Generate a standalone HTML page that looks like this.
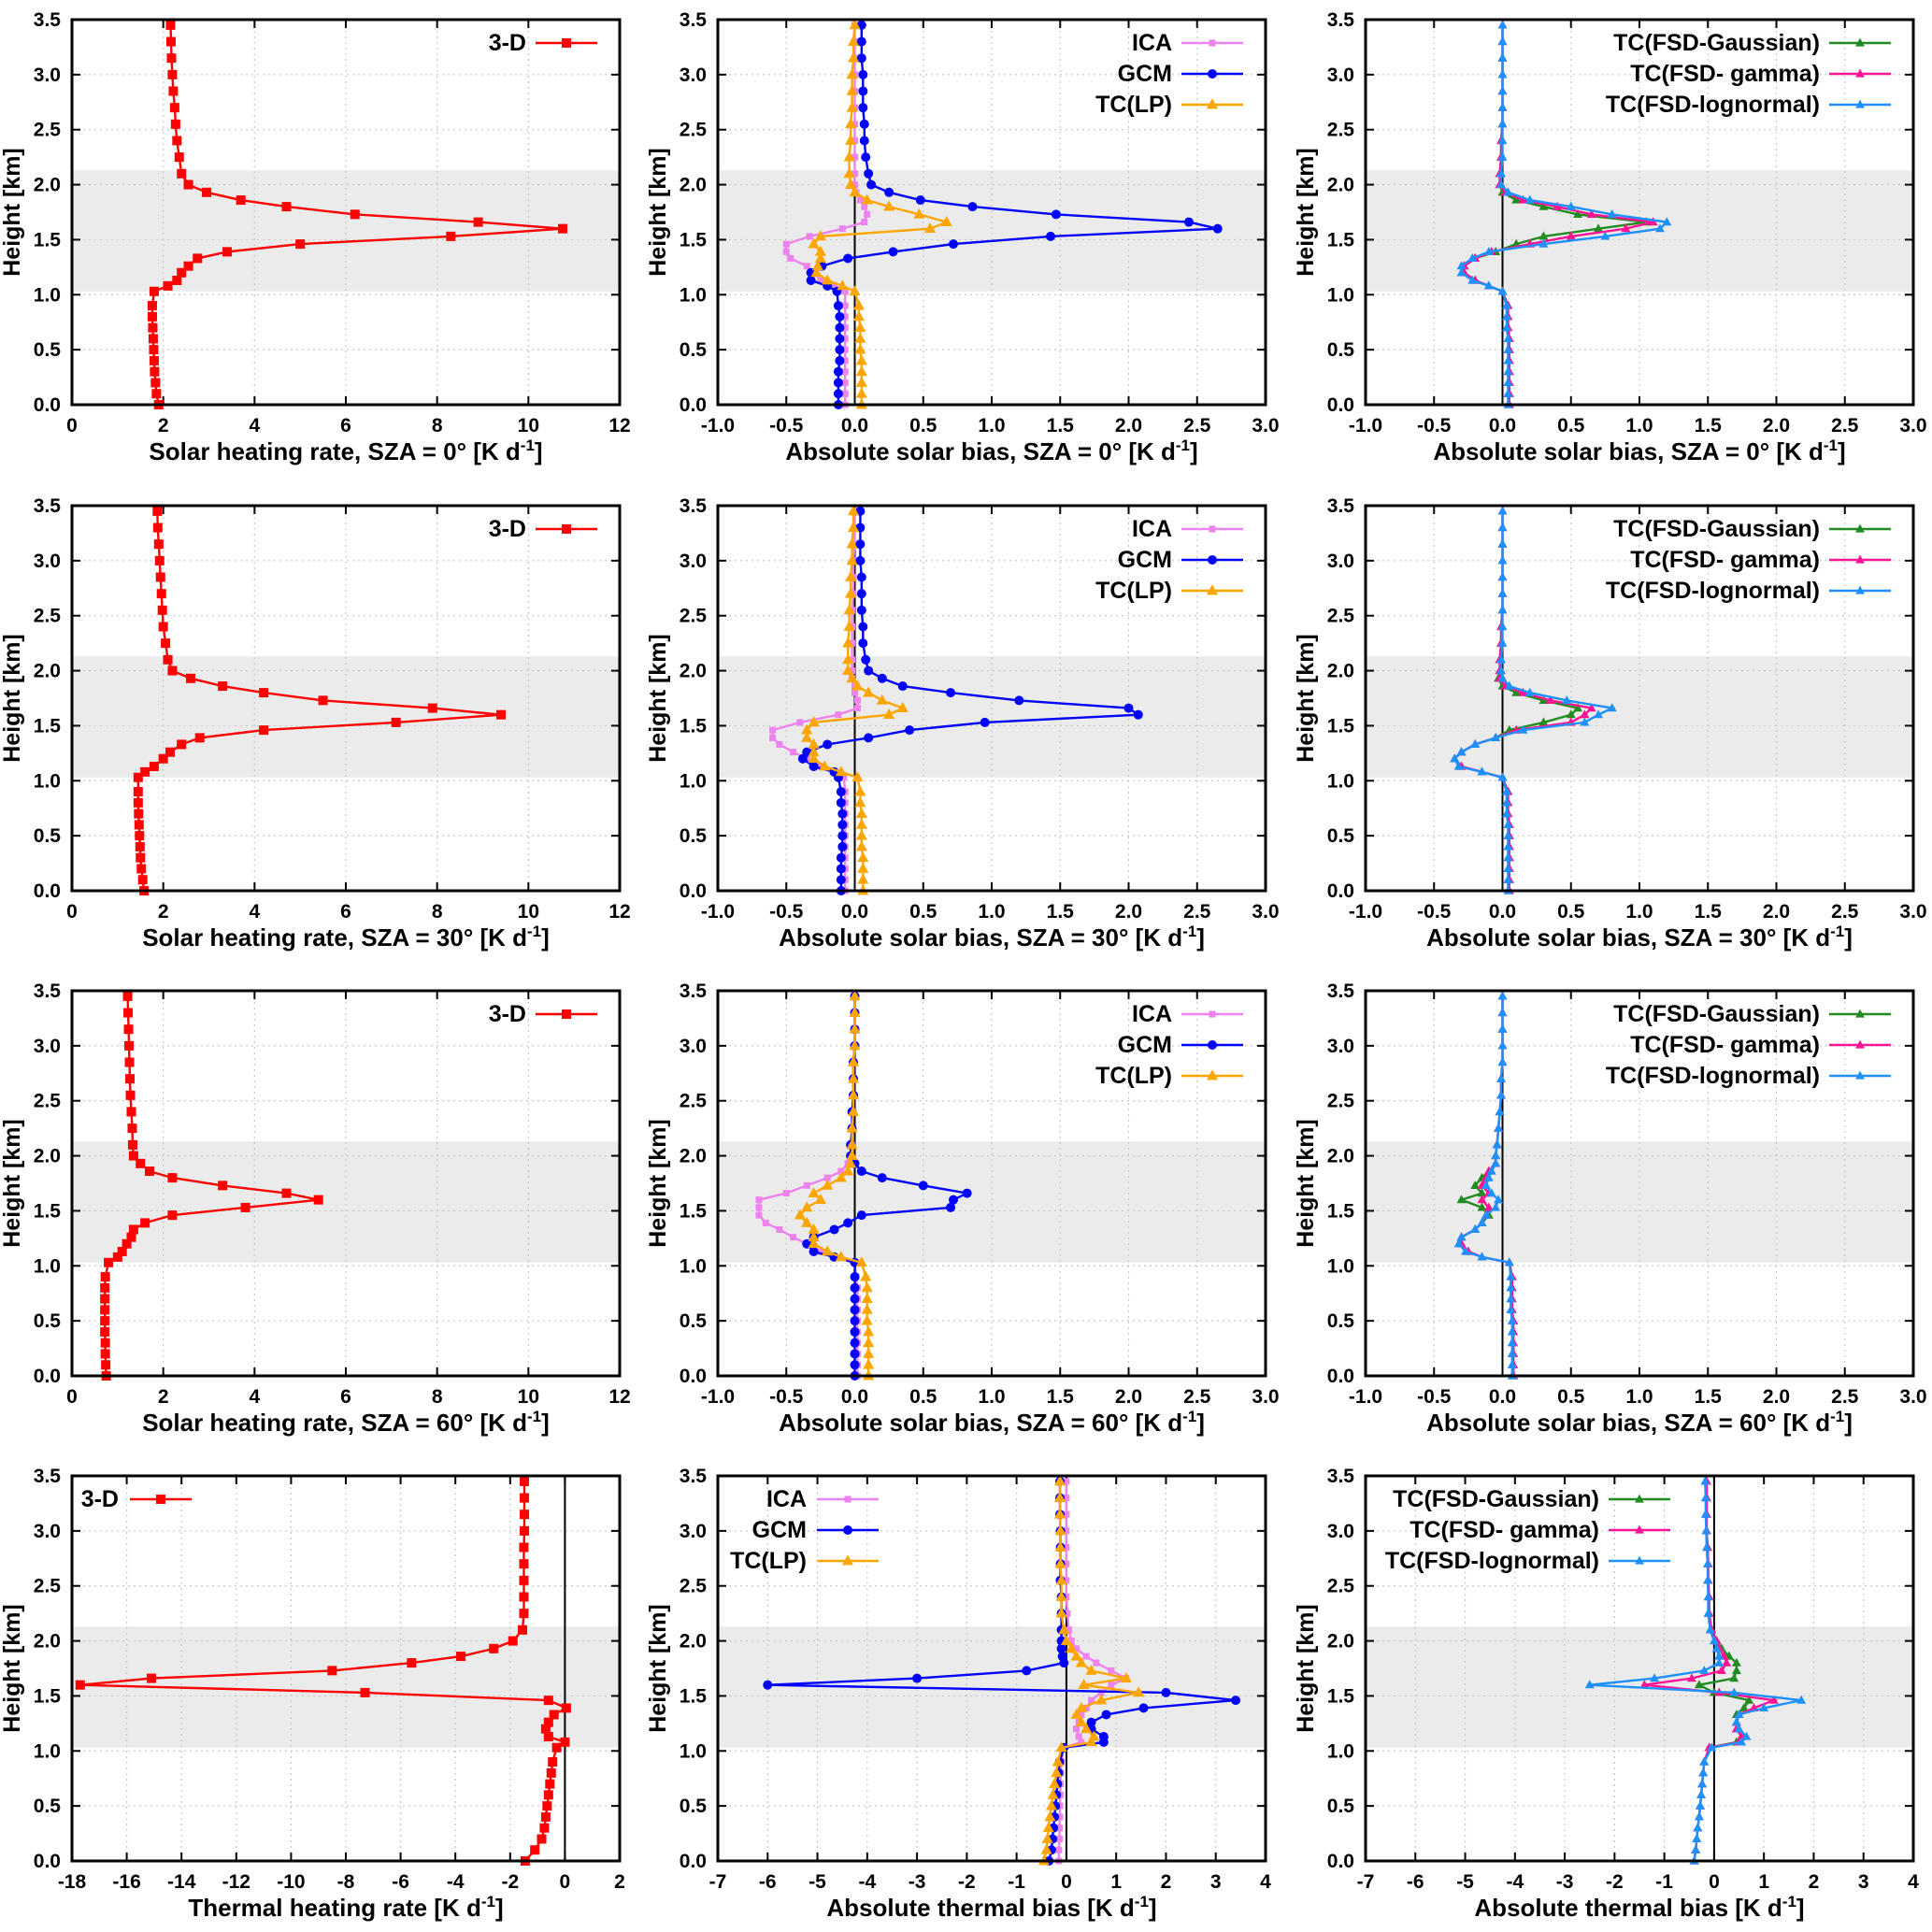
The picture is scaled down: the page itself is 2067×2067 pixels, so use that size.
<!DOCTYPE html>
<html><head><meta charset="utf-8"><style>
html,body{margin:0;padding:0;background:#fff;}
svg{display:block;font-family:"Liberation Sans",sans-serif;font-weight:bold;}
</style></head><body>
<svg id="fig" width="2067" height="2067" viewBox="0 0 2067 2067" xmlns="http://www.w3.org/2000/svg"></svg>
<script>
// Heights (km) shared by all profiles
const H=[0,0.1,0.2,0.3,0.4,0.5,0.6,0.7,0.8,0.9,1.03,1.08,1.13,1.2,1.26,1.33,1.39,1.46,1.53,1.6,1.66,1.73,1.8,1.86,1.93,2.0,2.1,2.25,2.4,2.55,2.7,2.85,3.0,3.15,3.3,3.45];
// Column 1: 3-D heating rates
const hr0=[1.9,1.85,1.83,1.81,1.8,1.79,1.78,1.77,1.76,1.76,1.8,2.1,2.3,2.4,2.55,2.75,3.4,5.0,8.3,10.75,8.9,6.2,4.7,3.7,2.95,2.55,2.4,2.35,2.3,2.27,2.25,2.22,2.2,2.18,2.17,2.16];
const hr30=[1.58,1.55,1.52,1.5,1.49,1.48,1.47,1.46,1.45,1.45,1.45,1.6,1.8,2.0,2.15,2.4,2.8,4.2,7.1,9.4,7.9,5.5,4.2,3.3,2.6,2.2,2.1,2.05,2.0,1.98,1.96,1.94,1.92,1.9,1.88,1.87];
const hr60=[0.75,0.74,0.73,0.73,0.72,0.72,0.72,0.72,0.72,0.73,0.8,1.0,1.1,1.2,1.3,1.35,1.6,2.2,3.8,5.4,4.7,3.3,2.2,1.7,1.5,1.35,1.33,1.32,1.3,1.28,1.27,1.26,1.25,1.24,1.23,1.22];
const hrTh=[-1.45,-1.1,-0.85,-0.75,-0.7,-0.65,-0.6,-0.55,-0.5,-0.45,-0.3,0.0,-0.6,-0.7,-0.6,-0.4,0.05,-0.6,-7.3,-17.7,-15.1,-8.5,-5.6,-3.8,-2.6,-1.9,-1.55,-1.5,-1.5,-1.5,-1.5,-1.5,-1.48,-1.48,-1.48,-1.48];
// Column 2: ICA / GCM / TC(LP) biases
const ica0=[-0.07,-0.07,-0.07,-0.07,-0.07,-0.07,-0.07,-0.07,-0.07,-0.07,-0.07,-0.15,-0.25,-0.3,-0.35,-0.47,-0.5,-0.5,-0.33,-0.09,0.07,0.09,0.07,0.04,0.01,0.0,0.0,0.0,0.0,0.0,0.0,0.0,0.0,0.0,0.0,0.0];
const gcm0=[-0.12,-0.12,-0.12,-0.12,-0.11,-0.11,-0.11,-0.11,-0.11,-0.12,-0.13,-0.2,-0.32,-0.32,-0.24,-0.05,0.28,0.72,1.43,2.65,2.44,1.47,0.86,0.48,0.25,0.12,0.1,0.08,0.07,0.07,0.06,0.06,0.06,0.05,0.05,0.05];
const tc0=[0.05,0.05,0.05,0.05,0.05,0.04,0.04,0.04,0.03,0.03,0.0,-0.09,-0.2,-0.28,-0.27,-0.25,-0.25,-0.3,-0.25,0.55,0.67,0.47,0.25,0.09,0.0,-0.03,-0.04,-0.04,-0.03,-0.03,-0.02,-0.02,-0.02,-0.01,-0.01,0.0];
const ica30=[-0.07,-0.07,-0.07,-0.07,-0.07,-0.07,-0.07,-0.07,-0.07,-0.07,-0.08,-0.15,-0.25,-0.35,-0.45,-0.55,-0.6,-0.6,-0.4,-0.12,0.02,0.02,0.0,0.0,-0.02,-0.02,-0.02,-0.02,-0.02,-0.02,-0.01,-0.01,-0.01,0.0,0.0,0.0];
const gcm30=[-0.1,-0.1,-0.1,-0.1,-0.09,-0.09,-0.09,-0.09,-0.1,-0.1,-0.12,-0.15,-0.3,-0.38,-0.35,-0.2,0.1,0.4,0.95,2.07,2.0,1.2,0.7,0.35,0.2,0.1,0.08,0.06,0.06,0.05,0.05,0.05,0.04,0.04,0.04,0.04];
const tc30=[0.06,0.06,0.06,0.06,0.05,0.05,0.05,0.05,0.04,0.04,0.02,-0.1,-0.22,-0.3,-0.3,-0.3,-0.35,-0.35,-0.3,0.25,0.35,0.2,0.1,0.02,-0.02,-0.05,-0.05,-0.05,-0.04,-0.04,-0.03,-0.03,-0.02,-0.02,-0.01,-0.01];
const ica60=[0.02,0.02,0.02,0.02,0.02,0.02,0.02,0.02,0.02,0.01,0.0,-0.15,-0.25,-0.35,-0.45,-0.55,-0.65,-0.7,-0.7,-0.7,-0.5,-0.35,-0.2,-0.1,-0.05,-0.03,-0.02,-0.02,-0.02,-0.01,-0.01,-0.01,0.0,0.0,0.0,0.0];
const gcm60=[0.0,0.0,0.0,0.0,0.0,0.0,0.0,0.0,0.0,0.0,0.0,-0.15,-0.3,-0.35,-0.3,-0.15,-0.05,0.05,0.7,0.72,0.82,0.5,0.2,0.05,0.0,-0.03,-0.03,-0.02,-0.02,-0.01,-0.01,-0.01,0.0,0.0,0.0,0.0];
const tc60=[0.1,0.1,0.1,0.1,0.1,0.09,0.09,0.09,0.09,0.08,0.05,-0.1,-0.2,-0.3,-0.3,-0.3,-0.35,-0.4,-0.35,-0.25,-0.3,-0.2,-0.1,-0.05,-0.03,-0.02,-0.02,-0.02,-0.01,-0.01,-0.01,-0.01,0.0,0.0,0.0,0.0];
const icaTh=[-0.15,-0.15,-0.14,-0.14,-0.13,-0.13,-0.12,-0.12,-0.11,-0.1,-0.05,0.3,0.25,0.2,0.25,0.3,0.4,0.5,0.7,0.9,1.2,0.9,0.6,0.4,0.2,0.1,0.05,0.02,0.0,0.0,0.0,0.0,0.0,0.0,0.0,0.0];
const gcmTh=[-0.35,-0.3,-0.28,-0.26,-0.24,-0.22,-0.2,-0.18,-0.16,-0.14,-0.05,0.75,0.75,0.5,0.5,0.8,1.55,3.4,2.0,-6.0,-3.0,-0.8,-0.05,-0.08,-0.1,-0.1,-0.1,-0.1,-0.1,-0.12,-0.12,-0.12,-0.12,-0.13,-0.13,-0.13];
const tcTh=[-0.45,-0.4,-0.38,-0.36,-0.33,-0.3,-0.27,-0.24,-0.2,-0.17,-0.1,0.5,0.55,0.4,0.3,0.2,0.3,0.7,1.45,0.35,1.2,0.5,0.3,0.2,0.1,0.0,-0.05,-0.1,-0.1,-0.1,-0.12,-0.12,-0.12,-0.13,-0.13,-0.13];
// Column 3: TC(FSD) biases
const gau0=[0.05,0.05,0.05,0.05,0.05,0.05,0.05,0.04,0.04,0.04,0.0,-0.1,-0.2,-0.28,-0.28,-0.2,-0.05,0.1,0.3,0.7,1.05,0.55,0.3,0.1,0.0,-0.02,-0.02,-0.01,-0.01,0.0,0.0,0.0,0.0,0.0,0.0,0.0];
const gam0=[0.05,0.05,0.05,0.05,0.05,0.05,0.05,0.04,0.04,0.04,0.0,-0.1,-0.2,-0.28,-0.28,-0.2,-0.08,0.2,0.5,0.9,1.1,0.65,0.4,0.15,0.02,-0.02,-0.02,-0.01,-0.01,0.0,0.0,0.0,0.0,0.0,0.0,0.0];
const log0=[0.04,0.04,0.04,0.04,0.04,0.04,0.04,0.03,0.03,0.03,0.0,-0.1,-0.22,-0.3,-0.3,-0.22,-0.1,0.3,0.75,1.15,1.2,0.8,0.5,0.2,0.04,-0.01,-0.01,0.0,0.0,0.0,0.0,0.0,0.0,0.0,0.0,0.0];
const gau30=[0.05,0.05,0.05,0.05,0.05,0.05,0.05,0.04,0.04,0.04,0.0,-0.15,-0.3,-0.35,-0.3,-0.2,-0.05,0.05,0.3,0.5,0.55,0.3,0.1,0.0,-0.03,-0.02,-0.02,-0.01,-0.01,0.0,0.0,0.0,0.0,0.0,0.0,0.0];
const gam30=[0.05,0.05,0.05,0.05,0.05,0.05,0.05,0.04,0.04,0.04,0.0,-0.15,-0.3,-0.35,-0.3,-0.2,-0.05,0.1,0.5,0.6,0.65,0.35,0.15,0.02,-0.02,-0.02,-0.02,-0.01,-0.01,0.0,0.0,0.0,0.0,0.0,0.0,0.0];
const log30=[0.04,0.04,0.04,0.04,0.04,0.04,0.04,0.03,0.03,0.03,0.0,-0.15,-0.32,-0.35,-0.3,-0.2,-0.05,0.15,0.6,0.7,0.8,0.47,0.2,0.05,0.0,-0.01,-0.01,0.0,0.0,0.0,0.0,0.0,0.0,0.0,0.0,0.0];
const gau60=[0.08,0.08,0.08,0.08,0.08,0.08,0.07,0.07,0.07,0.07,0.05,-0.15,-0.25,-0.3,-0.3,-0.2,-0.15,-0.1,-0.15,-0.3,-0.15,-0.2,-0.15,-0.1,-0.05,-0.05,-0.04,-0.03,-0.02,-0.01,-0.01,0.0,0.0,0.0,0.0,0.0];
const gam60=[0.08,0.08,0.08,0.08,0.08,0.08,0.07,0.07,0.07,0.07,0.05,-0.15,-0.25,-0.3,-0.3,-0.2,-0.15,-0.12,-0.1,-0.15,-0.1,-0.15,-0.12,-0.1,-0.05,-0.05,-0.04,-0.03,-0.02,-0.01,-0.01,0.0,0.0,0.0,0.0,0.0];
const log60=[0.07,0.07,0.07,0.07,0.07,0.07,0.06,0.06,0.06,0.06,0.05,-0.15,-0.27,-0.32,-0.3,-0.2,-0.15,-0.12,-0.05,-0.03,-0.08,-0.12,-0.1,-0.08,-0.05,-0.05,-0.04,-0.03,-0.02,-0.01,-0.01,0.0,0.0,0.0,0.0,0.0];
const gauTh=[-0.4,-0.37,-0.35,-0.33,-0.3,-0.28,-0.26,-0.24,-0.22,-0.2,-0.1,0.45,0.55,0.45,0.45,0.45,0.6,0.7,0.0,-0.3,0.4,0.45,0.45,0.3,0.15,0.05,-0.05,-0.1,-0.1,-0.12,-0.12,-0.13,-0.15,-0.15,-0.15,-0.15];
const gamTh=[-0.4,-0.37,-0.35,-0.33,-0.3,-0.28,-0.26,-0.24,-0.22,-0.2,-0.1,0.5,0.55,0.45,0.45,0.5,0.8,1.2,0.1,-1.4,-0.45,0.15,0.25,0.2,0.1,0.05,-0.05,-0.1,-0.1,-0.12,-0.12,-0.13,-0.15,-0.15,-0.15,-0.15];
const logTh=[-0.4,-0.37,-0.35,-0.33,-0.3,-0.28,-0.26,-0.24,-0.22,-0.2,-0.05,0.55,0.65,0.5,0.45,0.5,1.0,1.75,0.4,-2.5,-1.2,-0.2,0.1,0.1,0.05,0.0,-0.08,-0.12,-0.12,-0.13,-0.13,-0.15,-0.16,-0.17,-0.17,-0.18];
const yTicks=[0,0.5,1,1.5,2,2.5,3,3.5];
const tickHR=[0,2,4,6,8,10,12];
const tickTh=[-18,-16,-14,-12,-10,-8,-6,-4,-2,0,2];
const tickBias=[-1,-0.5,0,0.5,1,1.5,2,2.5,3];
const tickThB=[-7,-6,-5,-4,-3,-2,-1,0,1,2,3,4];
const ICA={name:'ICA',color:'#ee82ee',m:'sq',ms:7};
const GCM={name:'GCM',color:'#0000ff',m:'ci',ms:10};
const TCL={name:'TC(LP)',color:'#ffa500',m:'tr',ms:11};
const GAU={name:'TC(FSD-Gaussian)',color:'#228b22',m:'tr',ms:9};
const GAM={name:'TC(FSD- gamma)',color:'#ff1493',m:'tr',ms:9};
const LOG={name:'TC(FSD-lognormal)',color:'#1e90ff',m:'tr',ms:9};
const TD={name:'3-D',color:'#ff0000',m:'sq',ms:10};

const NS='http://www.w3.org/2000/svg';
const svg=document.getElementById('fig');
function mk(tag,attrs,parent){const e=document.createElementNS(NS,tag);for(const k in attrs)e.setAttribute(k,attrs[k]);(parent||svg).appendChild(e);return e;}
const colL=[77,768,1461], rowT=[21,541,1060,1579], PW=586, PH=412;
function fmt(v,dec){return dec?v.toFixed(1):String(v);}
function marker(g,t,x,y,c,s){
  let e;
  if(t==='sq') e=mk('rect',{x:x-s/2,y:y-s/2,width:s,height:s,fill:c},g);
  else if(t==='ci') e=mk('circle',{cx:x,cy:y,r:s/2,fill:c},g);
  else e=mk('polygon',{points:`${x},${y-s*0.6} ${x-s*0.55},${y+s*0.4} ${x+s*0.55},${y+s*0.4}`,fill:c},g);
  
  
}
function panel(r,c,xmin,xmax,ticks,dec,title,series,legendLeft,zeroLine){
  const L=colL[c],T=rowT[r],B=T+PH,R=L+PW;
  const xs=v=>L+(v-xmin)/(xmax-xmin)*PW, ys=h=>B-h/3.5*PH;
  const g=mk('g',{});
  
  
  const band=mk('rect',{x:L,y:ys(2.13),width:PW,height:ys(1.03)-ys(2.13),fill:'#ebebeb'},g);
  
  
  ticks.forEach(v=>{const x=xs(v);mk('line',{x1:x,y1:T,x2:x,y2:B,stroke:'#c8c8c8','stroke-width':1.2,'stroke-dasharray':'2,4'},g);
    mk('line',{x1:x,y1:B,x2:x,y2:B-9,stroke:'#000','stroke-width':2},g);mk('line',{x1:x,y1:T,x2:x,y2:T+9,stroke:'#000','stroke-width':2},g);
    const t=mk('text',{x:x,y:B+29,'text-anchor':'middle','font-size':21},g);t.textContent=fmt(v,dec);
    });
  yTicks.forEach(v=>{const y=ys(v);mk('line',{x1:L,y1:y,x2:R,y2:y,stroke:'#c8c8c8','stroke-width':1.2,'stroke-dasharray':'2,4'},g);
    mk('line',{x1:L,y1:y,x2:L+9,y2:y,stroke:'#000','stroke-width':2},g);mk('line',{x1:R,y1:y,x2:R-9,y2:y,stroke:'#000','stroke-width':2},g);
    const t=mk('text',{x:L-12,y:y+7,'text-anchor':'end','font-size':21},g);t.textContent=v.toFixed(1);
    });
  if(zeroLine){const z=mk('line',{x1:xs(0),y1:T,x2:xs(0),y2:B,stroke:'#000','stroke-width':2},g);}
  series.forEach(s=>{
    const pts=H.map((h,i)=>xs(s.v[i]).toFixed(1)+','+ys(h).toFixed(1)).join(' ');
    const pl=mk('polyline',{points:pts,fill:'none',stroke:s.st.color,'stroke-width':2.4},g);
    
    
    H.forEach((h,i)=>marker(g,s.st.m,xs(s.v[i]),ys(h),s.st.color,s.st.ms));
  });
  const fr=mk('rect',{x:L,y:T,width:PW,height:PH,fill:'none',stroke:'#000','stroke-width':3},g);
  
  const yt=mk('text',{x:0,y:0,'text-anchor':'middle','font-size':25,transform:`translate(${L-56},${T+PH/2}) rotate(-90)`},g);
  yt.textContent='Height [km]';
  const xt=mk('text',{x:L+PW/2,y:B+59,'text-anchor':'middle','font-size':26},g);
  
  xt.appendChild(document.createTextNode(title+' [K d'));
  const sp=mk('tspan',{dy:-10,'font-size':17},xt);sp.textContent='-1';
  const sp2=mk('tspan',{dy:10},xt);sp2.textContent=']';
  const lg=mk('g',{},g);
  series.slice().sort((a,b)=>a.lo-b.lo).forEach((s,i)=>{
    const y=T+25+i*33;
    let tx,l1,l2;
    if(legendLeft){tx=L+legendLeft[0];l1=L+legendLeft[1];l2=L+legendLeft[2];}
    else{tx=R-100;l1=R-90;l2=R-24;}
    const t=mk('text',{x:tx,y:y+8,'text-anchor':'end','font-size':25},lg);t.textContent=s.st.name;
    
    mk('line',{x1:l1,y1:y,x2:l2,y2:y,stroke:s.st.color,'stroke-width':2.4},lg);
    marker(lg,s.st.m,(l1+l2)/2,y,s.st.color,s.st.ms);
  });
}
const sza=['0','30','60'];
const hrs=[hr0,hr30,hr60];
const c2=[[ica0,gcm0,tc0],[ica30,gcm30,tc30],[ica60,gcm60,tc60]];
const c3=[[gau0,gam0,log0],[gau30,gam30,log30],[gau60,gam60,log60]];
for(let r=0;r<3;r++){
  panel(r,0,0,12,tickHR,false,'Solar heating rate, SZA = '+sza[r]+'°',[{st:TD,v:hrs[r],lo:0}],null,false);
  panel(r,1,-1,3,tickBias,true,'Absolute solar bias, SZA = '+sza[r]+'°',[{st:ICA,v:c2[r][0],lo:0},{st:GCM,v:c2[r][1],lo:1},{st:TCL,v:c2[r][2],lo:2}],null,true);
  panel(r,2,-1,3,tickBias,true,'Absolute solar bias, SZA = '+sza[r]+'°',[{st:GAU,v:c3[r][0],lo:0},{st:GAM,v:c3[r][1],lo:1},{st:LOG,v:c3[r][2],lo:2}],null,true);
}
panel(3,0,-18,2,tickTh,false,'Thermal heating rate',[{st:TD,v:hrTh,lo:0}],[50,62,128],true);
panel(3,1,-7,4,tickThB,false,'Absolute thermal bias',[{st:ICA,v:icaTh,lo:0},{st:GCM,v:gcmTh,lo:1},{st:TCL,v:tcTh,lo:2}],[95,106,172],true);
panel(3,2,-7,4,tickThB,false,'Absolute thermal bias',[{st:GAU,v:gauTh,lo:0},{st:GAM,v:gamTh,lo:1},{st:LOG,v:logTh,lo:2}],[250,260,326],true);
</script>
</body></html>
